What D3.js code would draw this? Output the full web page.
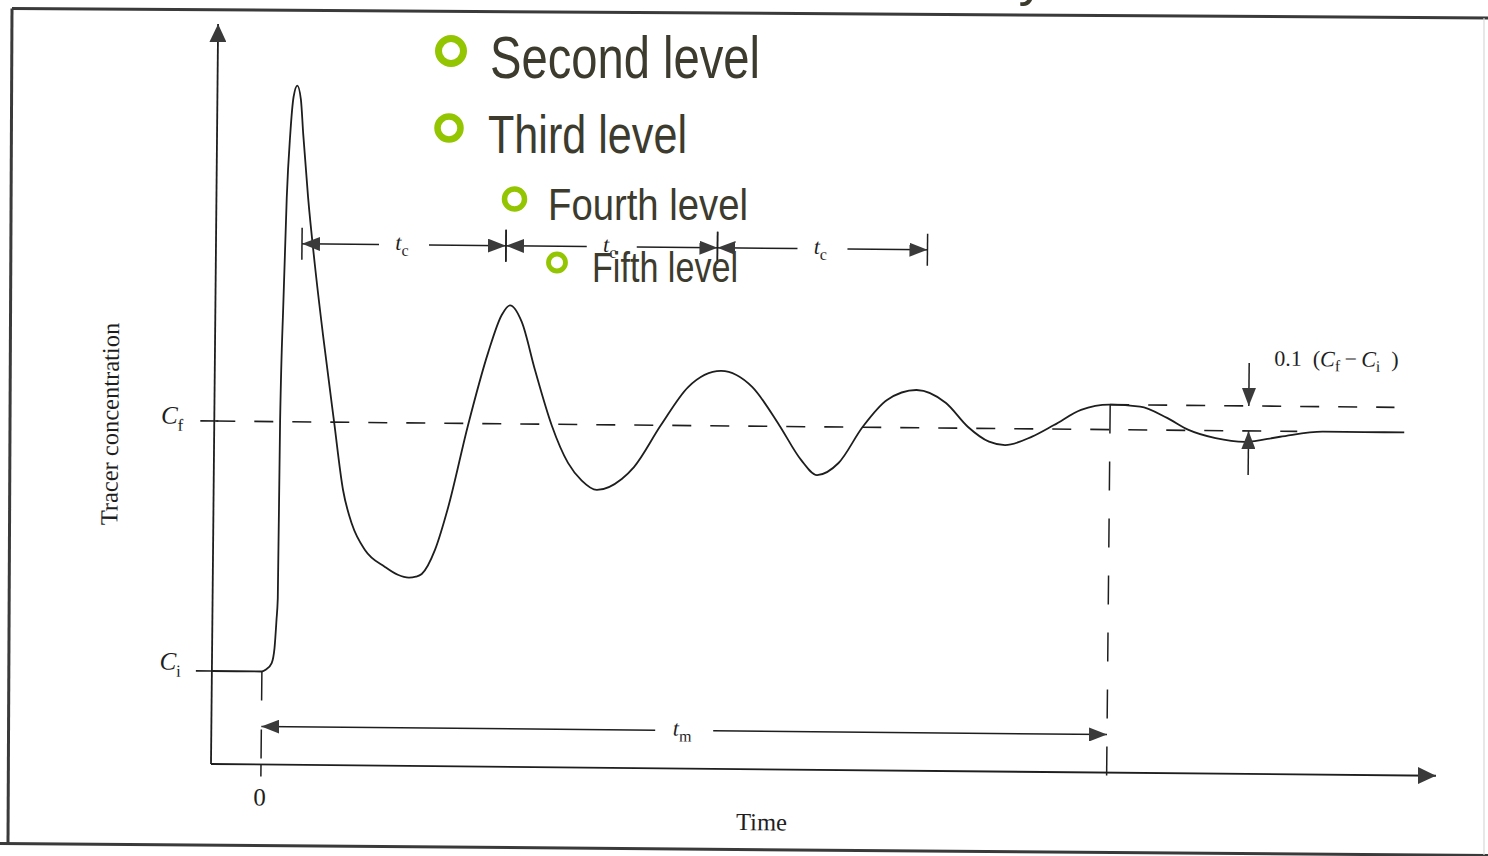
<!DOCTYPE html>
<html>
<head>
<meta charset="utf-8">
<script src="https://cdn.jsdelivr.net/npm/d3@7"></script>
<style>
  html, body { margin: 0; padding: 0; background: #ffffff; overflow: hidden; }
  svg { display: block; }
</style>
</head>
<body>
<svg id="chart" width="1488" height="856"></svg>
<script>
// Tracer response after a pulse injection: time (arbitrary units after injection)
// and concentration normalised so that Ci = 0 and Cf = 1.
const timeValues = [
  -0.5, 0, 0.041, 0.097, 0.124, 0.141, 0.152, 0.158, 0.18, 0.203, 0.232, 0.262,
  0.298, 0.335, 0.362, 0.416, 0.492, 0.579, 0.697, 0.794, 0.887, 1.019, 1.221,
  1.35, 1.46, 1.53, 1.589, 1.719, 1.845, 2.037, 2.231, 2.364, 2.446, 2.565, 2.702,
  2.875, 3.041, 3.18, 3.331, 3.58, 3.701, 3.967, 4.235, 4.564, 4.875, 5.148, 5.371,
  5.532, 5.746, 5.985, 6.225, 6.52, 6.815, 7.035, 7.249, 7.409, 7.679, 7.897,
  8.166, 8.457, 8.756, 9.027, 9.243, 9.514, 9.809, 10.159, 10.588, 11.0, 11.4
];
const concValues = [
  0, 0, 0.008, 0.034, 0.094, 0.206, 0.294, 1.0, 1.487, 1.895, 2.15, 2.3,
  2.345, 2.29, 2.15, 1.9, 1.624, 1.348, 1.004, 0.729, 0.592, 0.49, 0.423,
  0.392, 0.381, 0.385, 0.396, 0.493, 0.661, 0.992, 1.283, 1.435, 1.474, 1.408, 1.216,
  0.995, 0.846, 0.776, 0.739, 0.784, 0.832, 1.001, 1.154, 1.22, 1.157, 1.006, 0.867,
  0.807, 0.856, 1.002, 1.11, 1.151, 1.1, 1.006, 0.947, 0.934, 0.969, 1.016,
  1.078, 1.1, 1.093, 1.049, 1.002, 0.97, 0.956, 0.978, 1.0, 1.0, 1.0
];

// Circulation-time interval boundaries, mixing time and the +/-10 % band
const circulationMarks = [0.36, 2.40, 4.515, 6.615];
const mixingTime = 8.457;
const bandFraction = 0.1;
const bandArrowTime = 9.843;
const levelNames = ["Ci", "Cf"];
const levelValues = [0, 1];

// Slide outline text
const bulletLabels = ["Second level", "Third level", "Fourth level", "Fifth level"];

const svg = d3.select("#chart");
const INK = "#1e1e1e";
const HEAD = "#3a3a3a";
const SERIF = "'Liberation Serif', 'Times New Roman', serif";

// ---- arrowhead markers ----
const defs = svg.append("defs");
function marker(id, len, half) {
  defs.append("marker")
    .attr("id", id)
    .attr("viewBox", `0 0 ${len} ${half * 2}`)
    .attr("refX", len).attr("refY", half)
    .attr("markerWidth", len).attr("markerHeight", half * 2)
    .attr("markerUnits", "userSpaceOnUse")
    .attr("orient", "auto-start-reverse")
    .append("path")
    .attr("d", `M0,0 L${len},${half} L0,${half * 2} Z`)
    .attr("fill", HEAD);
}
marker("dim", 18, 7);
marker("axisHead", 18, 8.5);

// ---- page frame ----
const frame = svg.append("g").attr("stroke", "#3a3a3a").attr("stroke-width", 3).attr("fill", "none");
frame.append("line").attr("x1", 12).attr("y1", 8.5).attr("x2", 1488).attr("y2", 18);
frame.append("line").attr("x1", 12).attr("y1", 8.5).attr("x2", 8).attr("y2", 843);
frame.append("line").attr("x1", 0).attr("y1", 843.5).attr("x2", 1488).attr("y2", 855.5);
svg.append("line").attr("x1", 1484).attr("y1", 18).attr("x2", 1484).attr("y2", 855)
  .attr("stroke", "#d8d8d8").attr("stroke-width", 1.2);

// descender of the slide title running off the top edge
svg.append("text").attr("x", 1032).attr("y", -5).attr("text-anchor", "middle")
  .attr("font-family", "'Liberation Sans', Arial, sans-serif").attr("font-size", 54)
  .attr("fill", "#3c3b2e").text("y");

// ---- chart (the printed figure sits slightly rotated on the page) ----
const g = svg.append("g").attr("transform", "rotate(0.55, 211, 764)");

const x = d3.scaleLinear().domain([-0.5, 11.75]).range([211, 1436]);
const y = d3.scaleLinear().domain([0, 1]).range([671, 421]);

const tMin = x.domain()[0];
const cAxis = y.invert(764);
const cTop = y.invert(24);

// axes with arrowheads
g.append("line")
  .attr("x1", x(tMin)).attr("y1", y(cAxis)).attr("x2", x(tMin)).attr("y2", y(cTop))
  .attr("stroke", INK).attr("stroke-width", 1.8).attr("marker-end", "url(#axisHead)");
g.append("line")
  .attr("x1", x(tMin)).attr("y1", y(cAxis)).attr("x2", x(x.domain()[1])).attr("y2", y(cAxis))
  .attr("stroke", INK).attr("stroke-width", 1.8).attr("marker-end", "url(#axisHead)");

// Ci / Cf ticks and labels
levelValues.forEach((v, i) => {
  const tickStart = i === 0 ? x(tMin) - 16 : x(tMin) - 14;
  g.append("line")
    .attr("x1", tickStart).attr("y1", y(v)).attr("x2", x(tMin) + (i === 0 ? 0 : 4)).attr("y2", y(v))
    .attr("stroke", INK).attr("stroke-width", 1.6);
  const lab = g.append("text")
    .attr("x", x(tMin) - 31).attr("y", y(v) + (i === 0 ? -1 : 3))
    .attr("text-anchor", "end").attr("font-family", SERIF).attr("fill", INK);
  lab.append("tspan").attr("font-style", "italic").attr("font-size", 25).text("C");
  lab.append("tspan").attr("font-size", 17).attr("dy", 7).text(levelNames[i].slice(1));
});

// final-level dashed line and the +10 % band line
g.append("line")
  .attr("x1", x(tMin) + 2).attr("y1", y(1)).attr("x2", x(10.33)).attr("y2", y(1))
  .attr("stroke", INK).attr("stroke-width", 1.6).attr("stroke-dasharray", "19 19");
g.append("line")
  .attr("x1", x(mixingTime)).attr("y1", y(1 + bandFraction)).attr("x2", x(11.3)).attr("y2", y(1 + bandFraction))
  .attr("stroke", INK).attr("stroke-width", 1.6).attr("stroke-dasharray", "19 19");

// vertical guide at t = 0 and at the mixing time
g.append("line")
  .attr("x1", x(0)).attr("y1", y(0)).attr("x2", x(0)).attr("y2", y(cAxis) + 12)
  .attr("stroke", INK).attr("stroke-width", 1.5).attr("stroke-dasharray", "29 29 29 6 12");
g.append("line")
  .attr("x1", x(mixingTime)).attr("y1", y(1 + bandFraction)).attr("x2", x(mixingTime)).attr("y2", y(cAxis) + 14)
  .attr("stroke", INK).attr("stroke-width", 1.5).attr("stroke-dasharray", "29 28");

g.append("text")
  .attr("x", x(0) - 1).attr("y", y(cAxis) + 41).attr("text-anchor", "middle")
  .attr("font-family", SERIF).attr("font-size", 25).attr("fill", INK).text("0");

// response curve
const line = d3.line()
  .x((d, i) => x(timeValues[i]))
  .y((d, i) => y(concValues[i]))
  .curve(d3.curveMonotoneX);
g.append("path")
  .datum(timeValues)
  .attr("d", line)
  .attr("fill", "none").attr("stroke", INK).attr("stroke-width", 1.8)
  .attr("stroke-linejoin", "round");

// dimension arrow with a centred label gap
function dimension(t0, t1, c, labelSub, gap, tickHalf) {
  const xa = x(t0), xb = x(t1), yy = y(c), xm = (xa + xb) / 2;
  g.append("line").attr("x1", xa).attr("y1", yy).attr("x2", xm - gap).attr("y2", yy)
    .attr("stroke", INK).attr("stroke-width", 1.5).attr("marker-start", "url(#dim)");
  g.append("line").attr("x1", xm + gap).attr("y1", yy).attr("x2", xb).attr("y2", yy)
    .attr("stroke", INK).attr("stroke-width", 1.5).attr("marker-end", "url(#dim)");
  if (tickHalf) {
    [xa, xb].forEach(xx => g.append("line")
      .attr("x1", xx).attr("y1", yy - tickHalf).attr("x2", xx).attr("y2", yy + tickHalf)
      .attr("stroke", INK).attr("stroke-width", 1.5));
  }
  const lab = g.append("text").attr("x", xm - 2).attr("y", yy + 5)
    .attr("text-anchor", "middle").attr("font-family", SERIF).attr("fill", INK);
  lab.append("tspan").attr("font-style", "italic").attr("font-size", 22).text("t");
  lab.append("tspan").attr("font-size", 16).attr("dy", 6).text(labelSub);
}

const cDim = y.invert(243);
for (let i = 0; i < circulationMarks.length - 1; i++) {
  dimension(circulationMarks[i], circulationMarks[i + 1], cDim, "c", 25, 16);
}
dimension(0, mixingTime, y.invert(726), "m", 29, 0);

// +/-10 % band arrows
g.append("line")
  .attr("x1", x(bandArrowTime)).attr("y1", y(1.272)).attr("x2", x(bandArrowTime)).attr("y2", y(1 + bandFraction))
  .attr("stroke", INK).attr("stroke-width", 1.5).attr("marker-end", "url(#dim)");
g.append("line")
  .attr("x1", x(bandArrowTime)).attr("y1", y(0.824)).attr("x2", x(bandArrowTime)).attr("y2", y(1))
  .attr("stroke", INK).attr("stroke-width", 1.5).attr("marker-end", "url(#dim)");

const band = g.append("text")
  .attr("x", x(bandArrowTime) + 25).attr("y", y(1.262))
  .attr("font-family", SERIF).attr("font-size", 22).attr("fill", INK);
band.append("tspan").text("0.1\u2002(");
band.append("tspan").attr("font-style", "italic").text("C");
band.append("tspan").attr("font-size", 16).attr("dy", 5).text("f");
band.append("tspan").attr("dy", -5).text("\u2009\u2212\u2009");
band.append("tspan").attr("font-style", "italic").text("C");
band.append("tspan").attr("font-size", 16).attr("dy", 5).text("i");
band.append("tspan").attr("dy", -5).text("\u2002)");

// axis titles
g.append("text")
  .attr("x", 762).attr("y", y(cAxis) + 61).attr("text-anchor", "middle")
  .attr("font-family", SERIF).attr("font-size", 24.5).attr("fill", INK).text("Time");
g.append("text")
  .attr("transform", `translate(115, ${(y(0) + y(1)) / 2 - 121}) rotate(-90)`)
  .attr("text-anchor", "middle")
  .attr("font-family", SERIF).attr("font-size", 24.5).attr("fill", INK).text("Tracer concentration");

// ---- slide outline bullets ----
const bulletRings = [
  { cx: 451, cy: 51, r: 12.5, w: 7 },
  { cx: 449, cy: 128, r: 11.5, w: 6.5 },
  { cx: 514.5, cy: 199, r: 10, w: 5.5 },
  { cx: 557, cy: 262.5, r: 8.5, w: 4.8 }
];
const bulletText = [
  { x: 490, y: 78, size: 60, len: 270 },
  { x: 488, y: 153, size: 53, len: 199 },
  { x: 548, y: 220, size: 45, len: 200 },
  { x: 592, y: 282, size: 42, len: 146 }
];
const outline = svg.append("g");
bulletLabels.forEach((label, i) => {
  const ring = bulletRings[i], t = bulletText[i];
  outline.append("circle")
    .attr("cx", ring.cx).attr("cy", ring.cy).attr("r", ring.r)
    .attr("fill", "none").attr("stroke", "#93c500").attr("stroke-width", ring.w);
  outline.append("text")
    .attr("x", t.x).attr("y", t.y)
    .attr("font-family", "'Liberation Sans Narrow', 'Liberation Sans', Arial, sans-serif")
    .attr("font-size", t.size)
    .attr("textLength", t.len).attr("lengthAdjust", "spacingAndGlyphs")
    .attr("fill", "#3c3b2e")
    .text(label);
});
</script>
</body>
</html>
